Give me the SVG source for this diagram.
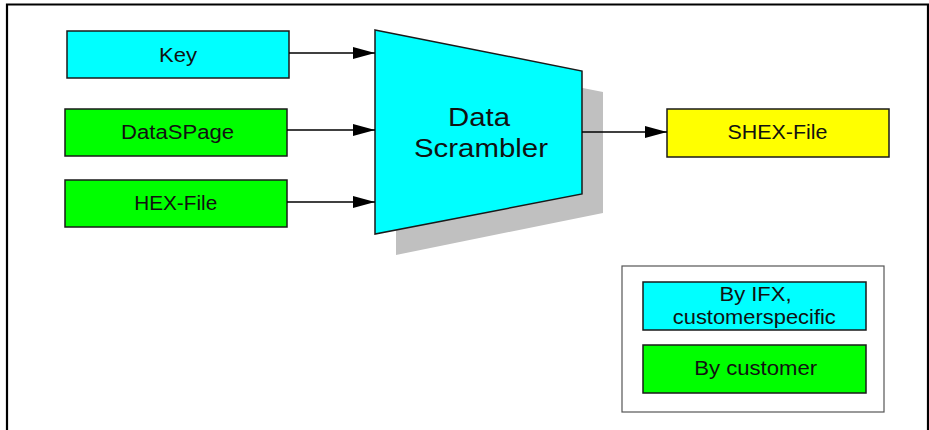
<svg xmlns="http://www.w3.org/2000/svg" width="929" height="430" viewBox="0 0 929 430">
<defs>
<style>
.box{stroke:#1a1a1a;stroke-width:1.5}
.cyan{fill:#00ffff}
.green{fill:#00ff00}
.yellow{fill:#ffff00}
.t{font-family:"Liberation Sans",Arial,sans-serif;font-size:19.5px;fill:#111;text-anchor:middle}
.big{font-size:25px}
.conn{stroke:#000;stroke-width:1.3;fill:none;marker-end:url(#ah)}
</style>
<marker id="ah" viewBox="0 0 10 10" refX="10" refY="5" markerWidth="22" markerHeight="12" markerUnits="userSpaceOnUse" orient="auto" preserveAspectRatio="none">
<path d="M0,0 L10,5 L0,10 Z" fill="#000"/>
</marker>
</defs>
<rect x="0" y="0" width="929" height="430" fill="#fff"/>
<path d="M7,430 V4.5 H928 V430" fill="none" stroke="#000" stroke-width="2.2"/>
<g id="key">
<rect class="box cyan" x="67" y="31" width="222" height="47"/>
<text class="t" x="178" y="62" textLength="38" lengthAdjust="spacingAndGlyphs">Key</text>
</g>
<g id="dataspage">
<rect class="box green" x="65" y="109" width="222" height="47"/>
<text class="t" x="177.5" y="139.3" textLength="113" lengthAdjust="spacingAndGlyphs">DataSPage</text>
</g>
<g id="hexfile">
<rect class="box green" x="65" y="180" width="222" height="47"/>
<text class="t" x="175.7" y="210" textLength="83" lengthAdjust="spacingAndGlyphs">HEX-File</text>
</g>
<g id="scrambler">
<polygon points="396,51 603,92 603,213 396,255" fill="#c0c0c0"/>
<polygon class="box cyan" points="375,30 582,71 582,194 375,234"/>
<text class="t big" x="479" y="126" textLength="62" lengthAdjust="spacingAndGlyphs">Data</text>
<text class="t big" x="481" y="157" textLength="134" lengthAdjust="spacingAndGlyphs">Scrambler</text>
</g>
<g id="shexfile">
<rect class="box yellow" x="667" y="109" width="222" height="48"/>
<text class="t" x="777.5" y="139.3" textLength="100" lengthAdjust="spacingAndGlyphs">SHEX-File</text>
</g>
<g id="legend">
<rect x="622" y="266" width="262" height="146" fill="#fff" stroke="#555" stroke-width="1.2"/>
<rect class="box cyan" x="643" y="282" width="223" height="48"/>
<text class="t" x="755.5" y="301" textLength="72" lengthAdjust="spacingAndGlyphs">By IFX,</text>
<text class="t" x="754.3" y="324" textLength="163" lengthAdjust="spacingAndGlyphs">customerspecific</text>
<rect class="box green" x="643" y="345" width="223" height="48"/>
<text class="t" x="755.7" y="375" textLength="123" lengthAdjust="spacingAndGlyphs">By customer</text>
</g>
<g id="connectors">
<line class="conn" x1="289" y1="53" x2="375" y2="53"/>
<line class="conn" x1="287" y1="130" x2="375" y2="130"/>
<line class="conn" x1="287" y1="202" x2="375" y2="202"/>
<line class="conn" x1="582" y1="132" x2="667" y2="132"/>
</g>
</svg>
